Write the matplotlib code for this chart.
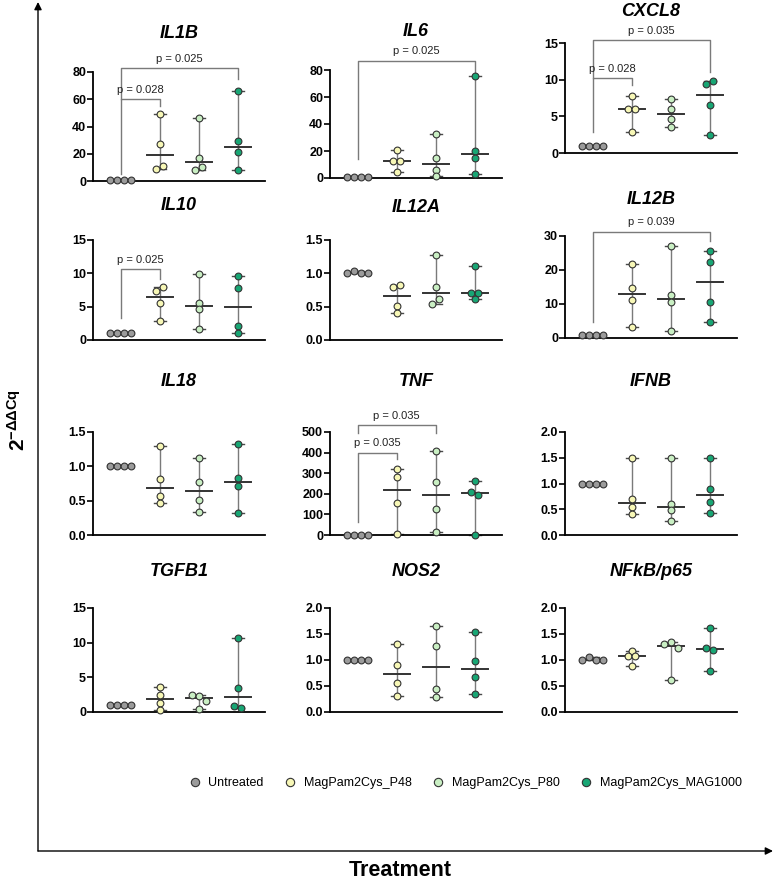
import numpy as np
import matplotlib.pyplot as plt
from matplotlib.lines import Line2D

plt.rcParams['font.family'] = ['Liberation Sans', 'DejaVu Sans']
plt.rcParams['mathtext.fontset'] = 'custom'
plt.rcParams['mathtext.rm'] = 'Liberation Sans'
plt.rcParams['mathtext.bf'] = 'Liberation Sans:bold'

groups = ['Untreated', 'MagPam2Cys_P48', 'MagPam2Cys_P80', 'MagPam2Cys_MAG1000']
group_colors = ['#9b9b9b', '#f7f7b6', '#c9efc3', '#18a674']

genes = ['IL1B', 'IL6', 'CXCL8', 'IL10', 'IL12A', 'IL12B',
         'IL18', 'TNF', 'IFNB', 'TGFB1', 'NOS2', 'NFkB/p65']

# fold change values per group (Untreated, P48, P80, MAG1000)
il1b = [[1, 1, 1, 1], [49, 27, 9, 11], [46.5, 17, 8, 10.5], [66, 29, 21, 8]]
il6 = [[1, 1, 1, 1], [20.5, 12.3, 12.3, 4.2], [32.5, 14.8, 5.7, 1.2], [75.4, 20.2, 14.8, 3.2]]
cxcl8 = [[1, 1, 1, 1], [7.8, 6.0, 6.0, 2.8], [7.3, 6.0, 4.6, 3.6], [9.4, 9.8, 6.5, 2.4]]
il10 = [[1, 1, 1, 1], [7.3, 7.9, 5.5, 2.9], [9.9, 5.5, 4.7, 1.7], [9.6, 7.8, 2.1, 1.0]]
il12a = [[1.0, 1.03, 1.0, 1.0], [0.80, 0.83, 0.51, 0.41], [1.27, 0.79, 0.54, 0.61], [1.11, 0.71, 0.71, 0.62]]
il12b = [[1, 1, 1, 1], [21.9, 14.6, 11.2, 3.1], [27.2, 12.6, 10.6, 2.0], [25.6, 22.3, 10.5, 4.8]]
il18 = [[1, 1, 1, 1], [1.30, 0.81, 0.57, 0.47], [1.12, 0.77, 0.51, 0.33], [1.32, 0.83, 0.72, 0.32]]
tnf = [[1, 1, 1, 1], [319, 283, 156, 5], [410, 256, 128, 15], [262, 211, 192, 0]]
ifnb = [[1, 1, 1, 1], [1.5, 0.69, 0.54, 0.40], [1.5, 0.61, 0.49, 0.27], [1.5, 0.90, 0.64, 0.42]]
tgfb1 = [[1, 1, 1, 1], [3.6, 2.5, 1.3, 0.3], [2.5, 2.3, 1.6, 0.5], [10.7, 3.4, 0.8, 0.6]]
nos2 = [[1, 1, 1, 1], [1.31, 0.91, 0.55, 0.30], [1.65, 1.27, 0.45, 0.28], [1.54, 0.98, 0.68, 0.35]]
nfkb = [[1.0, 1.05, 1.0, 1.0], [1.18, 1.07, 1.07, 0.88], [1.30, 1.34, 1.24, 0.62], [1.62, 1.23, 1.20, 0.78]]
gene_data = [il1b, il6, cxcl8, il10, il12a, il12b, il18, tnf, ifnb, tgfb1, nos2, nfkb]

# y axis max and tick step
y_max = [80, 80, 15, 15, 1.5, 30, 1.5, 500, 2.0, 15, 2.0, 2.0]
y_step = [20, 20, 5, 5, 0.5, 10, 0.5, 100, 0.5, 5, 0.5, 0.5]

# significance brackets: (group a, group b, bar height, left leg end, right leg end, label)
brackets = {
    'IL1B': [(0, 1, 60, 5, 55, 'p = 0.028'), (0, 3, 83, 60, 75, 'p = 0.025')],
    'IL6': [(0, 3, 87, 14, 77, 'p = 0.025')],
    'CXCL8': [(0, 1, 10.2, 2.8, 9.3, 'p = 0.028'), (0, 3, 15.4, 10.2, 11.1, 'p = 0.035')],
    'IL10': [(0, 1, 10.6, 3.3, 9.1, 'p = 0.025')],
    'IL12B': [(0, 3, 31.3, 4.7, 28.5, 'p = 0.039')],
    'TNF': [(0, 1, 400, 65, 367, 'p = 0.035'), (0, 2, 532, 497, 497, 'p = 0.035')],
}

W, H = 775, 883
# panel layout in pixels: left, top of y axis, zero line, title centre
layout = [(93, 72, 181, 33), (330, 70, 178, 32), (565, 43, 153, 12),
          (93, 240, 340, 205), (330, 240, 340, 207), (565, 236, 338, 200),
          (93, 432, 535, 382), (330, 432, 535, 382), (565, 432, 535, 382),
          (93, 608, 712, 572), (330, 608, 712, 572), (565, 608, 712, 572)]
PW = 172


def spread(vals, px_per_unit, d=0.175, thr=5.0):
    vals = np.asarray(vals, float)
    order = np.argsort(vals, kind='stable')
    offs = np.zeros(len(vals))
    clusters = [[order[0]]]
    for i in order[1:]:
        if (vals[i] - vals[clusters[-1][-1]]) * px_per_unit < thr:
            clusters[-1].append(i)
        else:
            clusters.append([i])
    for c in clusters:
        c = sorted(c)
        for k, i in enumerate(c):
            offs[i] = (k - (len(c) - 1) / 2) * d
    return offs


fig = plt.figure(figsize=(W / 100, H / 100), dpi=100)

# overlay for big arrows and labels
ax0 = fig.add_axes([0, 0, 1, 1])
ax0.set_xlim(0, W)
ax0.set_ylim(H, 0)
ax0.axis('off')
arr = dict(arrowstyle='-|>', color='black', lw=1.0, mutation_scale=11, shrinkA=0, shrinkB=0)
ax0.annotate('', xy=(38, 2), xytext=(38, 851), arrowprops=arr)
ax0.annotate('', xy=(773, 851), xytext=(38, 851), arrowprops=arr)
ax0.text(18, 420, r'$\mathbf{2^{-ΔΔCq}}$', rotation=90, ha='center', va='center', fontsize=15)
ax0.text(400, 871, 'Treatment', ha='center', va='center', fontsize=15.5, fontweight='bold')

for gene, data, ym, ys, (left, top, zero, ty) in zip(genes, gene_data, y_max, y_step, layout):
    ax = fig.add_axes([left / W, 1 - zero / H, PW / W, (zero - top) / H])
    ax.set_xlim(-0.71, 3.70)
    ax.set_ylim(0, ym)
    ppu = (zero - top) / ym
    for g, vals in enumerate(data):
        vals = np.array(vals, float)
        med = np.median(vals)
        lo, hi = vals.min(), vals.max()
        ax.plot([g, g], [lo, hi], color='#7a7a7a', lw=1.0, zorder=2, clip_on=False)
        for v in (lo, hi):
            ax.plot([g - 0.15, g + 0.15], [v, v], color='#4a4a4a', lw=1.0, zorder=2, clip_on=False)
        ax.plot([g - 0.33, g + 0.33], [med, med], color='#333333', lw=1.4, zorder=2, clip_on=False)
        xs = g + spread(vals, ppu)
        ax.scatter(xs, vals, s=24, color=group_colors[g], edgecolor='#333333',
                   linewidth=0.8, zorder=3, clip_on=False)
    for a, b, yb, yl, yr, lab in brackets.get(gene, []):
        ax.plot([a, a, b, b], [yl, yb, yb, yr], color='#7a7a7a', lw=1.0, clip_on=False, zorder=1)
        ax.annotate(lab, xy=((a + b) / 2, yb), xytext=(0, 3), textcoords='offset points',
                    ha='center', va='bottom', fontsize=8, color='#222222', annotation_clip=False)
    ticks = np.arange(0, ym + ys / 2, ys)
    ax.set_yticks(ticks)
    if ys < 1:
        ax.set_yticklabels(['%.1f' % t for t in ticks])
    else:
        ax.set_yticklabels(['%d' % t for t in ticks])
    ax.set_xticks([])
    for s in ('top', 'right'):
        ax.spines[s].set_visible(False)
    for s in ('left', 'bottom'):
        ax.spines[s].set_linewidth(1.3)
    ax.tick_params(axis='y', length=4, width=1.2, labelsize=9, pad=1)
    for t in ax.get_yticklabels():
        t.set_fontweight('bold')
    ax.patch.set_alpha(0)
    ax0.text(left + PW / 2, ty, gene, ha='center', va='center', fontsize=13,
             fontweight='bold', fontstyle='italic')

handles = [Line2D([], [], marker='o', ls='none', markersize=6, markerfacecolor=c,
                  markeredgecolor='#333333', markeredgewidth=0.8) for c in group_colors]
fig.legend(handles, groups, loc='center', bbox_to_anchor=(465 / W, 1 - 783 / H), ncol=4,
           frameon=False, fontsize=9, handlelength=1.0, handletextpad=0.6, columnspacing=1.6)

fig.savefig('out.png', dpi=100)
